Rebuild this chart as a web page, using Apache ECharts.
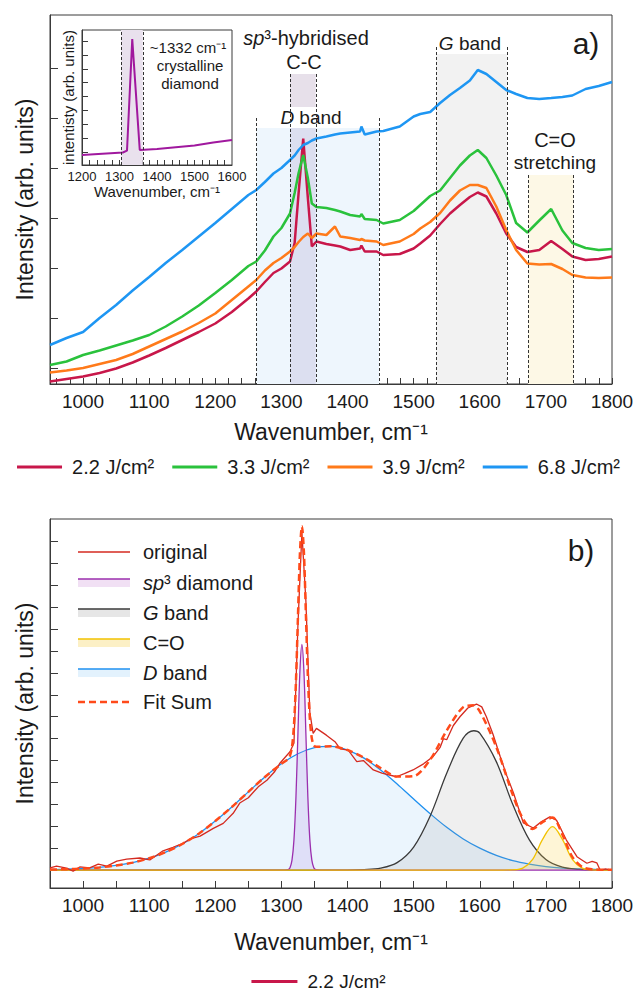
<!DOCTYPE html>
<html>
<head>
<meta charset="utf-8">
<title>Raman spectra of laser-treated samples</title>
<script src="https://cdn.jsdelivr.net/npm/echarts@6.0.0/dist/echarts.min.js"></script>
<style>
  html, body { margin: 0; padding: 0; background: #fff; }
  #chart { width: 637px; height: 994px; }
</style>
</head>
<body>
<div id="chart"></div>
<script>
// ---- panel a: spectra for the four fluences (arb. units)
const wnA = [950, 975, 1000, 1025, 1050, 1075, 1100, 1125, 1150, 1175, 1200, 1225, 1250, 1262, 1275,
  1288, 1300, 1313, 1320, 1326, 1333, 1340, 1346, 1353, 1368, 1381, 1389, 1404, 1419, 1421,
  1426, 1444, 1454, 1479, 1500, 1510, 1525, 1540, 1555, 1570, 1585, 1597, 1610, 1625, 1640,
  1655, 1672, 1690, 1708, 1725, 1740, 1760, 1780, 1800];
const int22 = [-0.27, -0.22, -0.17, -0.10, -0.01, 0.11, 0.25, 0.40, 0.56, 0.72, 0.89, 1.12, 1.39, 1.53, 1.72,
  1.90, 1.99, 2.13, 2.50, 3.50, 4.59, 3.40, 2.43, 2.53, 2.48, 2.45, 2.43, 2.36, 2.39, 2.45,
  2.33, 2.33, 2.26, 2.28, 2.39, 2.49, 2.65, 2.88, 3.09, 3.26, 3.42, 3.51, 3.43, 3.09, 2.69,
  2.42, 2.32, 2.36, 2.54, 2.38, 2.23, 2.16, 2.18, 2.23];
const int33 = [0.06, 0.13, 0.26, 0.35, 0.45, 0.55, 0.66, 0.83, 1.03, 1.25, 1.50, 1.76, 2.04, 2.13, 2.35,
  2.63, 2.80, 3.09, 3.50, 3.90, 4.26, 3.80, 3.29, 3.22, 3.20, 3.16, 3.13, 3.06, 3.03, 3.08,
  2.98, 2.96, 2.89, 2.96, 3.14, 3.26, 3.44, 3.55, 3.80, 4.05, 4.25, 4.36, 4.20, 3.85, 3.46,
  2.90, 2.71, 2.95, 3.18, 2.75, 2.50, 2.40, 2.36, 2.38];
const int39 = [-0.09, -0.05, 0.00, 0.08, 0.16, 0.28, 0.43, 0.58, 0.73, 0.90, 1.09, 1.36, 1.63, 1.76, 1.95,
  2.10, 2.20, 2.33, 2.42, 2.52, 2.62, 2.69, 2.60, 2.69, 2.66, 2.83, 2.63, 2.60, 2.56, 2.58,
  2.55, 2.53, 2.46, 2.53, 2.68, 2.79, 2.92, 3.10, 3.35, 3.55, 3.66, 3.66, 3.60, 3.23, 2.76,
  2.36, 2.09, 2.07, 2.08, 1.98, 1.86, 1.81, 1.80, 1.81];
const int68 = [0.46, 0.60, 0.72, 1.00, 1.26, 1.55, 1.82, 2.10, 2.36, 2.63, 2.90, 3.18, 3.46, 3.56, 3.72,
  3.89, 4.00, 4.16, 4.25, 4.36, 4.46, 4.50, 4.55, 4.59, 4.63, 4.67, 4.69, 4.71, 4.73, 4.83,
  4.67, 4.73, 4.74, 4.83, 5.03, 5.08, 5.12, 5.30, 5.46, 5.60, 5.75, 5.96, 5.88, 5.72, 5.56,
  5.48, 5.40, 5.38, 5.40, 5.42, 5.45, 5.58, 5.64, 5.72];
const namesA = ['2.2 J/cm²', '3.3 J/cm²', '3.9 J/cm²', '6.8 J/cm²'];

// band limits (cm-1) and heights in panel a units
const bandFrom = [1262, 1313, 1534, 1673];   // D, sp3, G, C=O
const bandTo = [1448, 1352, 1641, 1742];
const shadeTop = [4.8, 4.8, 6.28, 3.86];
const lineTop = [5.0, 5.88, 6.42, 3.86];
const sp3Patch = [5.22, 5.88];

// inset: crystalline diamond
const insetWn = [1200, 1309, 1320, 1334, 1354, 1400, 1500, 1550, 1600];
const insetInt = [-0.11, -0.02, 0.05, 4.07, 0.07, 0.11, 0.23, 0.34, 0.43];
const insetBand = [1304, 1362];

// ---- panel b: fit of the 2.2 J/cm2 spectrum
const origWn = [950, 960, 975, 985, 995, 1010, 1023, 1036, 1051, 1066, 1086, 1101, 1121, 1136, 1151,
  1162, 1177, 1197, 1212, 1227, 1237, 1250, 1265, 1278, 1290, 1298, 1313, 1319, 1325, 1331,
  1337, 1343, 1348, 1353, 1368, 1381, 1389, 1401, 1414, 1424, 1439, 1452, 1474, 1486, 1499,
  1515, 1529, 1540, 1545, 1550, 1560, 1570, 1582, 1595, 1603, 1610, 1620, 1631, 1641, 1651,
  1666, 1681, 1693, 1706, 1716, 1731, 1747, 1755, 1762, 1770, 1777, 1782, 1790, 1800];
const origInt = [0.10, 0.18, 0.09, -0.05, 0.14, 0.10, 0.27, 0.18, 0.41, 0.50, 0.55, 0.46, 0.88, 1.04, 1.22,
  1.42, 1.55, 1.90, 2.13, 2.59, 3.06, 3.30, 3.80, 4.10, 4.50, 4.89, 5.40, 5.80, 11.2, 15.4,
  12.3, 7.2, 6.24, 6.47, 6.16, 5.86, 5.53, 5.48, 4.95, 5.00, 4.57, 4.43, 4.26, 4.40, 4.57,
  4.85, 5.17, 5.60, 6.00, 5.95, 6.60, 7.00, 7.40, 7.58, 7.45, 7.00, 6.20, 5.17, 4.30, 3.52,
  2.15, 1.92, 2.20, 2.43, 2.28, 1.37, 0.61, 0.45, 0.31, 0.40, 0.33, 0.00, 0.05, 0.00];

const dWn = [950, 975, 1000, 1025, 1050, 1075, 1100, 1125, 1150, 1175, 1200, 1225, 1250, 1275, 1300,
  1325, 1350, 1375, 1400, 1425, 1450, 1475, 1500, 1525, 1550, 1575, 1600, 1625, 1650, 1675,
  1700, 1725, 1750, 1775, 1800];
const dInt = [0.02, 0.04, 0.07, 0.12, 0.21, 0.34, 0.54, 0.82, 1.19, 1.66, 2.24, 2.88, 3.57, 4.25, 4.85,
  5.31, 5.59, 5.65, 5.48, 5.11, 4.57, 3.93, 3.24, 2.57, 1.95, 1.42, 1.00, 0.67, 0.43, 0.27,
  0.16, 0.09, 0.05, 0.03, 0.01];

const gWn = [950, 1400, 1425, 1450, 1475, 1500, 1525, 1550, 1575, 1591, 1600, 1625, 1650, 1675, 1700, 1725, 1750, 1775, 1800];
const gInt = [0, 0, 0.02, 0.09, 0.34, 1.05, 2.47, 4.42, 6.02, 6.36, 6.25, 4.95, 2.99, 1.38, 0.48, 0.13, 0.03, 0, 0];

const sp3Wn = [950, 1305, 1310, 1313, 1316, 1319, 1322, 1325, 1328, 1331, 1334, 1337, 1340, 1343, 1346, 1349, 1352, 1357, 1800];
const sp3Int = [0, 0, 0.02, 0.11, 0.45, 1.39, 3.34, 6.25, 9.09, 10.3, 9.09, 6.25, 3.34, 1.39, 0.45, 0.11, 0.02, 0, 0];

const coWn = [950, 1635, 1650, 1665, 1680, 1695, 1710, 1725, 1740, 1755, 1770, 1785, 1800];
const coInt = [0, 0, 0.01, 0.09, 0.49, 1.40, 1.98, 1.40, 0.49, 0.09, 0.01, 0, 0];

const fitWn = [950, 975, 1000, 1025, 1050, 1075, 1100, 1125, 1150, 1175, 1200, 1225, 1250, 1275, 1300,
  1310, 1313, 1316, 1319, 1322, 1325, 1328, 1331, 1334, 1337, 1340, 1343, 1346, 1349, 1352,
  1375, 1400, 1425, 1450, 1475, 1500, 1525, 1550, 1575, 1590, 1600, 1625, 1650, 1665, 1680,
  1695, 1710, 1725, 1740, 1755, 1770, 1800];
const fitInt = [0.02, 0.04, 0.07, 0.12, 0.21, 0.34, 0.54, 0.82, 1.19, 1.66, 2.24, 2.88, 3.57, 4.25, 4.85,
  5.07, 5.22, 5.62, 6.61, 8.61, 11.56, 14.45, 15.70, 14.53, 11.72, 8.85, 6.93, 6.01, 5.70, 5.63,
  5.65, 5.48, 5.13, 4.66, 4.27, 4.29, 5.04, 6.37, 7.44, 7.52, 7.25, 5.62, 3.43, 2.36, 1.87,
  2.19, 2.40, 1.62, 0.60, 0.14, 0.04, 0.01];

// tick labels
const labelsX = [1000, 1100, 1200, 1300, 1400, 1500, 1600, 1700, 1800];
const labelsInset = [1200, 1300, 1400, 1500, 1600];

const FONT = '"Liberation Sans", Arial, Helvetica, sans-serif';
const INK = '#1a1a1a';
const AX = '#3a3a3a';
const A_MIN = -0.32, A_MAX = 7.06;
const B_MIN = -0.82, B_MAX = 16.03;
const I_MIN = -0.47, I_MAX = 4.40;

const pairs = (xs, ys) => xs.map((x, i) => [x, ys[i]]);
const steps = (from, to, step) => {
  const out = [];
  for (let v = from; v <= to + 1e-9; v += step) out.push(Math.round(v * 100) / 100);
  return out;
};
const plain = v => String(v);

function xAxisOf(grid, min, max, labels, ticks, o) {
  return {
    type: 'value', gridIndex: grid, position: 'bottom', min: min, max: max,
    name: o.name, nameLocation: 'middle', nameGap: o.nameGap,
    nameTextStyle: { fontSize: o.nameSize, color: INK, fontFamily: FONT },
    axisLine: { onZero: false, lineStyle: { color: AX, width: 1 } },
    axisTick: { show: true, inside: true, length: o.tick, customValues: ticks, lineStyle: { color: AX } },
    axisLabel: { customValues: labels, formatter: plain, fontSize: o.size, margin: o.margin, color: INK, fontFamily: FONT },
    splitLine: { show: false }
  };
}
function yAxisOf(grid, min, max, ticks, len, name, gap, size) {
  return {
    type: 'value', gridIndex: grid, position: 'left', min: min, max: max,
    name: name, nameLocation: 'middle', nameGap: gap, nameRotate: 90,
    nameTextStyle: { fontSize: size, color: INK, fontFamily: FONT },
    axisLine: { show: true, onZero: false, lineStyle: { color: AX, width: 1 } },
    axisTick: { show: true, inside: true, length: len, customValues: ticks, lineStyle: { color: AX } },
    axisLabel: { show: false }, splitLine: { show: false }
  };
}

// shaded bands of panel a
const bandColors = ['#eef6fd', '#dcdff0', '#f2f2f2', '#fdf8e6'];
const areaData = bandFrom.map((f, i) => [
  { xAxis: f, yAxis: A_MIN, itemStyle: { color: bandColors[i] } },
  { xAxis: bandTo[i], yAxis: shadeTop[i] }
]);
areaData.push([
  { xAxis: bandFrom[1], yAxis: sp3Patch[0], itemStyle: { color: '#e7e0ea' } },
  { xAxis: bandTo[1], yAxis: sp3Patch[1] }
]);
const edgeData = [];
bandFrom.forEach((f, i) => {
  [f, bandTo[i]].forEach(x => edgeData.push([{ coord: [x, lineTop[i]] }, { coord: [x, A_MIN] }]));
});

const coloursA = ['#c8174a', '#2ac23c', '#ff7a1a', '#1e96f3'];
const valuesA = [int22, int33, int39, int68];

const series = [
  {
    type: 'line', name: 'bands', xAxisIndex: 0, yAxisIndex: 0, z: 1, silent: true,
    data: pairs(wnA, int22), symbol: 'none', lineStyle: { opacity: 0 },
    markArea: { silent: true, data: areaData }
  },
  {
    type: 'line', name: 'band edges', xAxisIndex: 0, yAxisIndex: 0, z: 2, silent: true,
    data: pairs(wnA, int22), symbol: 'none', lineStyle: { opacity: 0 },
    markLine: {
      silent: true, symbol: ['none', 'none'], label: { show: false },
      lineStyle: { type: [3, 2], color: '#333', width: 1 }, data: edgeData
    }
  }
];
valuesA.forEach((vals, i) => series.push({
  type: 'line', name: namesA[i], xAxisIndex: 0, yAxisIndex: 0, z: 3,
  data: pairs(wnA, vals), symbol: 'none', color: coloursA[i],
  lineStyle: { width: 2.5, color: coloursA[i] }
}));

// inset
series.push({
  type: 'line', name: 'diamond', xAxisIndex: 2, yAxisIndex: 2, z: 4,
  data: pairs(insetWn, insetInt), symbol: 'none', color: '#a0189e',
  lineStyle: { width: 2, color: '#a0189e' },
  markArea: {
    silent: true, itemStyle: { color: '#e9e1ed' },
    data: [[{ xAxis: insetBand[0], yAxis: I_MIN }, { xAxis: insetBand[1], yAxis: I_MAX }]]
  },
  markLine: {
    silent: true, symbol: ['none', 'none'], label: { show: false },
    lineStyle: { type: [3, 2], color: '#333', width: 1 },
    data: [{ xAxis: insetBand[0] }, { xAxis: insetBand[1] }]
  }
});

// panel b components
const comp = (name, xs, ys, line, fill, z) => ({
  type: 'line', name: name, xAxisIndex: 1, yAxisIndex: 1, z: z,
  data: pairs(xs, ys), symbol: 'none', smooth: 0.35, color: line,
  lineStyle: { width: 1.3, color: line }, areaStyle: { color: fill }
});
series.push(comp('D band', dWn, dInt, '#1e90f0', 'rgba(160,210,245,0.3)', 3));
series.push(comp('G band', gWn, gInt, '#3a3a3a', 'rgba(150,150,150,0.22)', 4));
series.push(comp('sp3 diamond', sp3Wn, sp3Int, '#9b2fae', 'rgba(180,140,230,0.3)', 5));
series.push(comp('C=O', coWn, coInt, '#f2c200', 'rgba(250,210,60,0.3)', 5));
series.push({
  type: 'line', name: 'original', xAxisIndex: 1, yAxisIndex: 1, z: 6,
  data: pairs(origWn, origInt), symbol: 'none', color: '#d42a20',
  lineStyle: { width: 1.3, color: '#d42a20' }
});
series.push({
  type: 'line', name: 'Fit Sum', xAxisIndex: 1, yAxisIndex: 1, z: 7,
  data: pairs(fitWn, fitInt), symbol: 'none', smooth: 0.3, color: '#ff4a1a',
  lineStyle: { width: 2.5, color: '#ff4a1a', type: [7, 4] }
});

// texts
const txt = (x, y, text, size, extra) => ({
  type: 'text', x: x, y: y, silent: true,
  style: Object.assign({
    text: text, fill: INK, fontSize: size, fontFamily: FONT,
    textAlign: 'center', textVerticalAlign: 'middle'
  }, extra || {})
});
const italic = size => ({ rich: { i: { fontStyle: 'italic', fontSize: size, fontFamily: FONT, fill: INK } } });

const graphic = [
  txt(306, 38, '{i|sp}³-hybridised', 20, italic(20)),
  txt(304, 62, 'C-C', 20),
  txt(311, 117, '{i|D} band', 19, italic(19)),
  txt(470, 43, '{i|G} band', 19, italic(19)),
  txt(555, 140, 'C=O', 20),
  txt(555, 162, 'stretching', 19),
  txt(586, 43, 'a)', 30),
  txt(188, 47, '~1332 cm⁻¹', 15),
  txt(190, 65, 'crystalline', 15),
  txt(190, 83, 'diamond', 15),
  txt(581, 550, 'b)', 30)
];

// legend of panel b (drawn by hand: line + filled swatch)
const legendB = [
  { label: 'original', y: 552, line: '#d42a20', width: 1.5 },
  { label: '{i|sp}³ diamond', y: 583, line: '#9b2fae', width: 1.5, fill: '#f1e0f4' },
  { label: '{i|G} band', y: 613, line: '#3a3a3a', width: 1.5, fill: '#e6e6e6' },
  { label: 'C=O', y: 643, line: '#f2c200', width: 1.5, fill: '#fcf0c6' },
  { label: '{i|D} band', y: 673, line: '#1e90f0', width: 1.5, fill: '#e3f2fd' },
  { label: 'Fit Sum', y: 702, line: '#ff4a1a', width: 2.5, dash: [7, 4] }
];
legendB.forEach(e => {
  const ly = e.fill ? e.y - 4 : e.y;
  if (e.fill) graphic.push({ type: 'rect', silent: true, shape: { x: 78, y: ly, width: 52, height: 8 }, style: { fill: e.fill } });
  graphic.push({
    type: 'line', silent: true, shape: { x1: 78, y1: ly, x2: 130, y2: ly },
    style: { stroke: e.line, lineWidth: e.width, lineDash: e.dash || null }
  });
  graphic.push(txt(143, e.y, e.label, 20, Object.assign({ textAlign: 'left' }, italic(20))));
});

const option = {
  animation: false,
  textStyle: { fontFamily: FONT },
  grid: [
    { left: 50, top: 15, width: 562, height: 369, show: true, borderColor: AX, borderWidth: 1, backgroundColor: 'transparent' },
    { left: 50, top: 519, width: 562, height: 369, show: true, borderColor: AX, borderWidth: 1, backgroundColor: 'transparent' },
    { left: 82, top: 30, width: 150, height: 135, show: true, borderColor: AX, borderWidth: 1, backgroundColor: '#fff' }
  ],
  xAxis: [
    xAxisOf(0, 950, 1800, labelsX, steps(960, 1800, 20),
      { name: 'Wavenumber, cm⁻¹', nameGap: 36, nameSize: 23, tick: 6, size: 19, margin: 8 }),
    xAxisOf(1, 950, 1800, labelsX, steps(1000, 1800, 50),
      { name: 'Wavenumber, cm⁻¹', nameGap: 42, nameSize: 23, tick: 7, size: 19, margin: 8 }),
    xAxisOf(2, 1200, 1600, labelsInset, steps(1220, 1580, 20),
      { name: 'Wavenumber, cm⁻¹', nameGap: 19, nameSize: 15, tick: 5, size: 13, margin: 5 })
  ],
  yAxis: [
    yAxisOf(0, A_MIN, A_MAX, steps(0, 6, 1), 8, 'Intensity (arb. units)', 14, 23),
    yAxisOf(1, B_MIN, B_MAX, steps(0, 15, 1), 8, 'Intensity (arb. units)', 14, 23),
    yAxisOf(2, I_MIN, I_MAX, steps(0, 4, 0.5), 6, 'intentisty (arb. units)', 6, 15)
  ],
  legend: [
    {
      data: namesA, left: 'center', top: 457, padding: 0, icon: 'rect', itemWidth: 45, itemHeight: 3,
      itemGap: 18, textStyle: { fontSize: 20, color: INK, fontFamily: FONT, padding: [0, 0, 0, 5] }
    },
    {
      data: [namesA[0]], left: 'center', top: 972, padding: 0, icon: 'rect', itemWidth: 46, itemHeight: 3,
      textStyle: { fontSize: 19, color: INK, fontFamily: FONT, padding: [0, 0, 0, 5] }
    }
  ],
  series: series,
  graphic: graphic
};

const chart = echarts.init(document.getElementById('chart'), null, { renderer: 'svg' });
chart.setOption(option);
</script>
</body>
</html>
